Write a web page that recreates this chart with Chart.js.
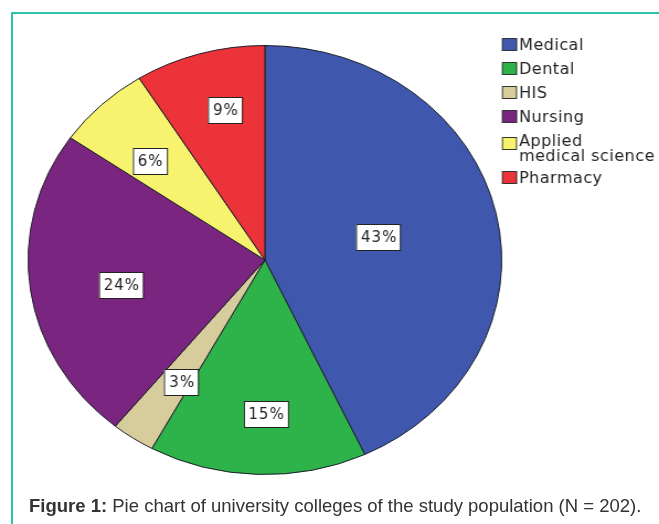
<!DOCTYPE html>
<html>
<head>
<meta charset="utf-8">
<script src="https://cdn.jsdelivr.net/npm/chart.js@4.4.0/dist/chart.umd.min.js"></script>
<style>
  html, body { margin: 0; padding: 0; background: #fff; }
  #wrap { position: relative; width: 659px; height: 524px; overflow: hidden; }
  #frame {
    position: absolute; left: 11px; top: 12px; width: 700px; height: 600px;
    border-left: 2px solid #2cc3a6; border-top: 2px solid #2cc3a6;
  }
  #pie { position: absolute; left: 0; top: 0; transform-origin: 0 0; }
  #caption {
    position: absolute; left: 29px; top: 495px; white-space: nowrap;
    font-family: "Liberation Sans", Arial, sans-serif; font-size: 18.5px; color: #333;
  }
</style>
</head>
<body>
<div id="wrap">
  <div id="frame"></div>
  <canvas id="pie" width="597" height="524"></canvas>
  <div id="caption"><b>Figure 1:</b> Pie chart of university colleges of the study population (N = 202).</div>
</div>
<script>
// data (N = 202)
const colleges = ['Medical', 'Dental', 'HIS', 'Nursing', 'Applied medical science', 'Pharmacy'];
const legendLines = [['Medical'], ['Dental'], ['HIS'], ['Nursing'], ['Applied', 'medical science'], ['Pharmacy']];
const students = [87, 30, 6, 48, 13, 18];
const percentLabels = ['43%', '15%', '3%', '24%', '6%', '9%'];

const sliceColors = ['#3f58ad', '#2eb34b', '#d7cd9c', '#7a2680', '#f8f36f', '#ec3339'];

// the original pie is an ellipse: draw a circle and stretch the canvas sideways
const canvas = document.getElementById('pie');
const S = 659 / canvas.width;
canvas.style.transform = `scaleX(${S})`;

// where each percentage box sits: fraction of radius, nudge off the mid angle (deg)
const labelRadius = [0.49, 0.72, 0.67, 0.62, 0.67, 0.72];
const labelTurn = [0, -2, -2, -3, -3, 2.5];
const handFont = '"DejaVu Sans", sans-serif';

const boxLabels = {
  id: 'boxLabels',
  afterDatasetsDraw(chart) {
    const ctx = chart.ctx;
    const meta = chart.getDatasetMeta(0);
    ctx.save();
    ctx.scale(1 / S, 1);
    ctx.font = `15px ${handFont}`;
    ctx.letterSpacing = '1px';
    ctx.textAlign = 'center';
    ctx.textBaseline = 'middle';
    meta.data.forEach((arc, i) => {
      const p = arc.getProps(['x', 'y', 'startAngle', 'endAngle', 'outerRadius'], true);
      const mid = (p.startAngle + p.endAngle) / 2 + labelTurn[i] * Math.PI / 180;
      const r = p.outerRadius * labelRadius[i];
      const px = (p.x + Math.cos(mid) * r) * S;
      const py = p.y + Math.sin(mid) * r;
      const w = Math.round(ctx.measureText(percentLabels[i]).width + 8);
      const h = 26;
      const bx = Math.round(px - w / 2), by = Math.round(py - h / 2);
      ctx.fillStyle = '#fff';
      ctx.fillRect(bx, by, w, h);
      ctx.strokeStyle = '#222';
      ctx.lineWidth = 1;
      ctx.strokeRect(bx + 0.5, by + 0.5, w, h);
      ctx.fillStyle = '#222';
      ctx.fillText(percentLabels[i], px + 1, py + 1);
    });
    ctx.restore();
  }
};

const sideLegend = {
  id: 'sideLegend',
  afterDraw(chart) {
    const ctx = chart.ctx;
    ctx.save();
    ctx.scale(1 / S, 1);
    ctx.font = `16px ${handFont}`;
    ctx.letterSpacing = '0.5px';
    ctx.textAlign = 'left';
    ctx.textBaseline = 'middle';
    let y = 44;
    legendLines.forEach((lines, i) => {
      const sq = y + (lines.length - 1) * 3;
      ctx.fillStyle = sliceColors[i];
      ctx.fillRect(502, sq - 6, 15, 13);
      ctx.strokeStyle = '#333';
      ctx.lineWidth = 1;
      ctx.strokeRect(502.5, sq - 5.5, 14, 12);
      ctx.fillStyle = '#222';
      lines.forEach((t, k) => ctx.fillText(t, 519, y + 2 + k * 15));
      y += 24 + (lines.length - 1) * 13;
    });
    ctx.restore();
  }
};

new Chart(canvas, {
  type: 'pie',
  data: {
    labels: colleges,
    datasets: [{
      data: students,
      backgroundColor: sliceColors,
      borderColor: '#1d1d2a',
      borderWidth: 1,
      hoverOffset: 0
    }]
  },
  options: {
    responsive: false,
    animation: false,
    events: [],
    layout: { padding: { top: 45, bottom: 49, left: 25, right: 142 } },
    plugins: {
      legend: { display: false },
      tooltip: { enabled: false }
    }
  },
  plugins: [boxLabels, sideLegend]
});
</script>
</body>
</html>
